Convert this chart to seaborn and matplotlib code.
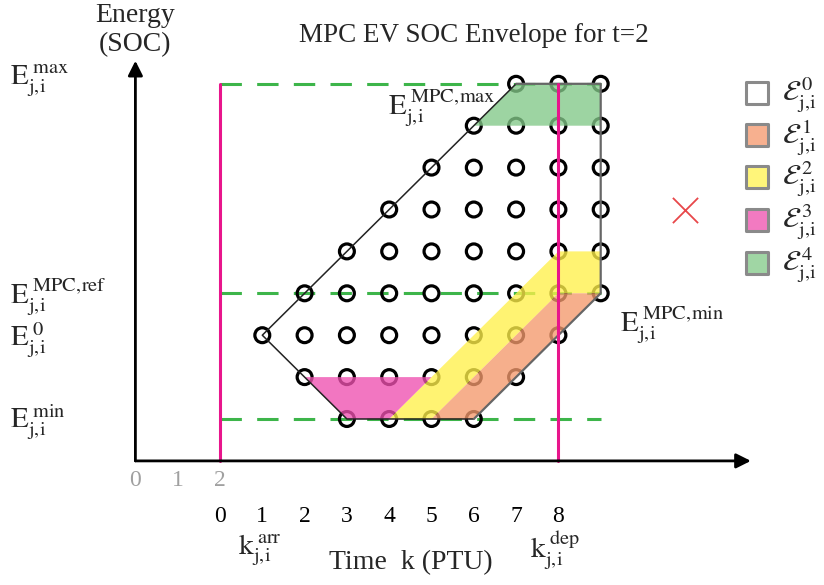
import matplotlib
matplotlib.use("Agg")
import matplotlib.pyplot as plt
import seaborn as sns
import pandas as pd
from matplotlib.patches import Polygon

sns.set_theme(style="white")
plt.rcParams['font.family'] = ['Liberation Serif', 'DejaVu Serif']
plt.rcParams['mathtext.fontset'] = 'stix'

# ---------------- data ----------------
# grid points (time step k, energy level L) per level
rows = {
    8: [7, 8, 9],
    7: [6, 7, 8, 9],
    6: [5, 6, 7, 8, 9],
    5: [4, 5, 6, 7, 8, 9],
    4: [3, 4, 5, 6, 7, 8, 9],
    3: [2, 3, 4, 5, 6, 7, 8, 9],
    2: [1, 2, 3, 4, 5, 6, 7, 8],
    1: [2, 3, 4, 5, 6, 7],
    0: [3, 4, 5, 6],
}
time_ticks = [0, 1, 2, 3, 4, 5, 6, 7, 8]
abs_ticks = ["0", "1", "2"]
abs_tick_pos = [-2, -1, 0]

envelope_left_k = [6, 3, 2, 1, 7]
envelope_left_L = [0, 0, 1, 2, 8]
envelope_right_k = [7, 9, 9, 6]
envelope_right_L = [8, 8, 3, 0]

region_green_k = [6, 7, 9, 9]
region_green_L = [7, 8, 8, 7]
region_pink_k = [2, 5, 4, 3]
region_pink_L = [1, 1, 0, 0]
region_yellow_k = [4, 8, 9, 9, 8, 5]
region_yellow_L = [0, 4, 4, 3, 3, 0]
region_orange_k = [5, 8, 9, 6]
region_orange_L = [0, 3, 3, 0]

level_max, level_ref, level_min = 8, 3, 0
k_arr_line, k_dep_line = 0, 8
infeasible_k, infeasible_L = [11], [5]

legend_labels = [r'$\mathcal{E}_{\mathrm{j,\!i}}^{\,0}$', r'$\mathcal{E}_{\mathrm{j,\!i}}^{\,1}$',
                 r'$\mathcal{E}_{\mathrm{j,\!i}}^{\,2}$', r'$\mathcal{E}_{\mathrm{j,\!i}}^{\,3}$',
                 r'$\mathcal{E}_{\mathrm{j,\!i}}^{\,4}$']
legend_colors = ['#ffffff', '#f7b08f', '#fff57a', '#f27ac1', '#a0d6a4']

# ---------------- figure ----------------
W, H = 824, 585
fig = plt.figure(figsize=(W / 100, H / 100), dpi=100)
ax = fig.add_axes([0, 0, 1, 1])
X0, DX = 220.0, 42.3
Y0, DY = 419.0, 41.9
ax.set_xlim((0 - X0) / DX, (W - X0) / DX)
ax.set_ylim((Y0 - H) / DY, (Y0 - 0) / DY)
ax.axis('off')

def fx(px):
    return px / W

def fy(py):
    return 1 - py / H

# grid circles
pts = pd.DataFrame([(k, L) for L, ks in rows.items() for k in ks], columns=['k', 'L'])
sns.scatterplot(data=pts, x='k', y='L', ax=ax, marker='o', s=115,
                facecolor='none', edgecolor='black', linewidth=2.3, zorder=3, legend=False)

# filled regions (semi-transparent, drawn over the circles)
def region(ks, Ls, color):
    ax.add_patch(Polygon(list(zip(ks, Ls)), closed=True, facecolor=color,
                         edgecolor='none', alpha=0.78, zorder=4))

region(region_yellow_k, region_yellow_L, '#fff04a')
region(region_orange_k, region_orange_L, '#f4996c')
region(region_pink_k, region_pink_L, '#ef50b0')
region(region_green_k, region_green_L, '#82c888')

# envelope outline
ax.plot(envelope_left_k, envelope_left_L, color='#222222', lw=1.1, zorder=5)
ax.plot(envelope_right_k, envelope_right_L, color='#666666', lw=1.6, zorder=5)

# dashed reference levels
for lev in [level_max, level_ref, level_min]:
    sns.lineplot(x=[0, 9], y=[lev, lev], ax=ax, color='#3db54a', lw=2.2,
                 linestyle=(0, (7, 5)), zorder=2)

# arrival / departure lines
for kk in [k_arr_line, k_dep_line]:
    ax.plot([kk, kk], [-1, 8], color='#e8158c', lw=2.2, zorder=6)

# axes arrows
ax.annotate('', xy=(12.55, -1), xytext=(-2, -1),
            arrowprops=dict(arrowstyle='-|>', lw=2.0, color='black', mutation_scale=22,
                            shrinkA=0, shrinkB=0), zorder=7)
ax.annotate('', xy=(-2, 8.55), xytext=(-2, -1),
            arrowprops=dict(arrowstyle='-|>', lw=2.0, color='black', mutation_scale=22,
                            shrinkA=0, shrinkB=0), zorder=7)

# infeasible marker
ax.scatter(infeasible_k, infeasible_L, marker='x', s=330, color='#e8474a', linewidths=1.3, zorder=6)

# tick labels
for lab, k in zip(abs_ticks, abs_tick_pos):
    ax.text(k, (Y0 - 481) / DY, lab, ha='center', va='center', fontsize=17, color='#a0a0a0')
for k in time_ticks:
    ax.text(k, (Y0 - 517) / DY, str(k), ha='center', va='center', fontsize=17, color='black')

# texts
fig.text(fx(135), fy(16), 'Energy', ha='center', va='center', fontsize=20)
fig.text(fx(135), fy(45), '(SOC)', ha='center', va='center', fontsize=20)
fig.text(fx(474), fy(36), 'MPC EV SOC Envelope for t=2', ha='center', va='center', fontsize=19.5)
fig.text(fx(411), fy(563), 'Time  k (PTU)', ha='center', va='center', fontsize=20)

def elabel(px, py, sup, base='E', size=21):
    fig.text(fx(px), fy(py), r'$\mathrm{%s}_{\mathrm{j,\!i}}^{\;\mathrm{%s}}$' % (base, sup),
             ha='left', va='center', fontsize=size)

elabel(10, 80, 'max')
elabel(10, 297, 'MPC,\!ref')
elabel(10, 340, '0')
elabel(10, 422, 'min')
elabel(388, 108, 'MPC,\!max')
elabel(620, 325, 'MPC,\!min')
elabel(238, 550, 'arr', base='k')
elabel(530, 550, 'dep', base='k')

# legend (manual)
leg_y = [93, 135, 177, 220, 263]
for lab, col, py in zip(legend_labels, legend_colors, leg_y):
    ax.scatter([(757 - X0) / DX], [(Y0 - py) / DY], marker='s', s=230, facecolor=col,
               edgecolor='#8a8a8a', linewidths=2.2, zorder=6)
    fig.text(fx(782), fy(py + 2), lab, ha='left', va='center', fontsize=21)

fig.savefig('out.png', dpi=100)
